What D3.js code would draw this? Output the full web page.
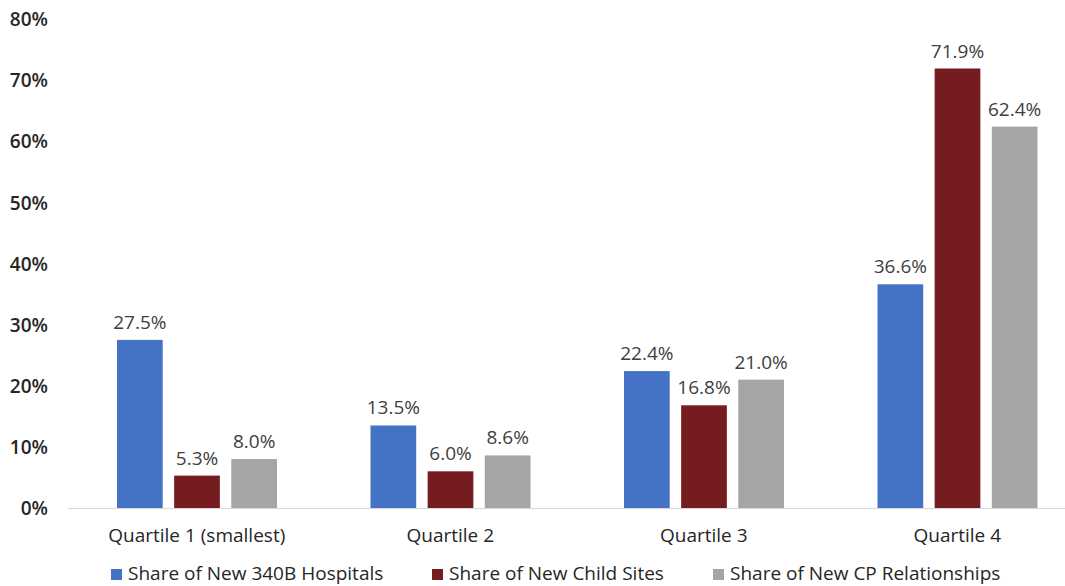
<!DOCTYPE html>
<html><head><meta charset="utf-8">
<script src="https://cdn.jsdelivr.net/npm/d3@7"></script>
<style>body{margin:0;background:#fff}svg{display:block}text{font-family:"Open Sans",Lato,sans-serif}</style>
</head><body><svg id="c" width="1065" height="586"></svg>
<script>
const categories = ["Quartile 1 (smallest)", "Quartile 2", "Quartile 3", "Quartile 4"];
const seriesNames = ["Share of New 340B Hospitals", "Share of New Child Sites", "Share of New CP Relationships"];
const hospitals = [27.5, 13.5, 22.4, 36.6];
const childSites = [5.3, 6.0, 16.8, 71.9];
const cpRelationships = [8.0, 8.6, 21.0, 62.4];
const yTicks = [0, 10, 20, 30, 40, 50, 60, 70, 80];
const colors = ["#4472C4", "#741C20", "#A5A5A5"];

const series = [hospitals, childSites, cpRelationships];
const svg = d3.select("#c");
const y = d3.scaleLinear().domain([0, 80]).range([508, 19]);
const x0 = d3.scaleBand().domain(categories).range([70, 1084]).paddingInner(0).paddingOuter(0);
const x1 = d3.scaleBand().domain(d3.range(3)).range([47, 207]).paddingInner(0.2).paddingOuter(0);
const FS = 19;

// y axis labels
const yAxis = d3.axisLeft(y).tickValues(yTicks).tickFormat(d => d + "%").tickSize(0).tickPadding(0);
const ga = svg.append("g").attr("transform", "translate(48,0)").call(yAxis);
ga.select(".domain").remove();
ga.selectAll("text").attr("font-size", FS).attr("font-weight", "600").attr("fill", "#262626").attr("dy", "0.35em")
  .style("font-family", "'Open Sans',sans-serif");

// baseline
svg.append("line").attr("x1", 68).attr("x2", 1065).attr("y1", y(0) + 0.5).attr("y2", y(0) + 0.5)
  .attr("stroke", "#D9D9D9").attr("stroke-width", 1);

categories.forEach((c, i) => {
  const g = svg.append("g").attr("transform", `translate(${x0(c)},0)`);
  series.forEach((s, j) => {
    g.append("rect").attr("x", x1(j)).attr("width", x1.bandwidth())
      .attr("y", y(s[i])).attr("height", y(0) - y(s[i])).attr("fill", colors[j]);
    g.append("text").attr("x", x1(j) + x1.bandwidth() / 2).attr("y", y(s[i]) - 11)
      .attr("text-anchor", "middle").attr("font-size", FS).attr("fill", "#404040")
      .text(s[i].toFixed(1) + "%");
  });
  g.append("text").attr("x", x0.bandwidth() / 2).attr("y", 542).attr("text-anchor", "middle")
    .attr("font-size", FS).attr("fill", "#262626").text(c);
});

// legend
const legX = [111, 432, 713];
seriesNames.forEach((n, j) => {
  const g = svg.append("g").attr("transform", `translate(${legX[j]},580)`);
  g.append("rect").attr("x", 0).attr("y", -11).attr("width", 11).attr("height", 11).attr("fill", colors[j]);
  g.append("text").attr("x", 17).attr("y", 0).attr("font-size", FS).attr("fill", "#262626").text(n);
});
</script></body></html>
